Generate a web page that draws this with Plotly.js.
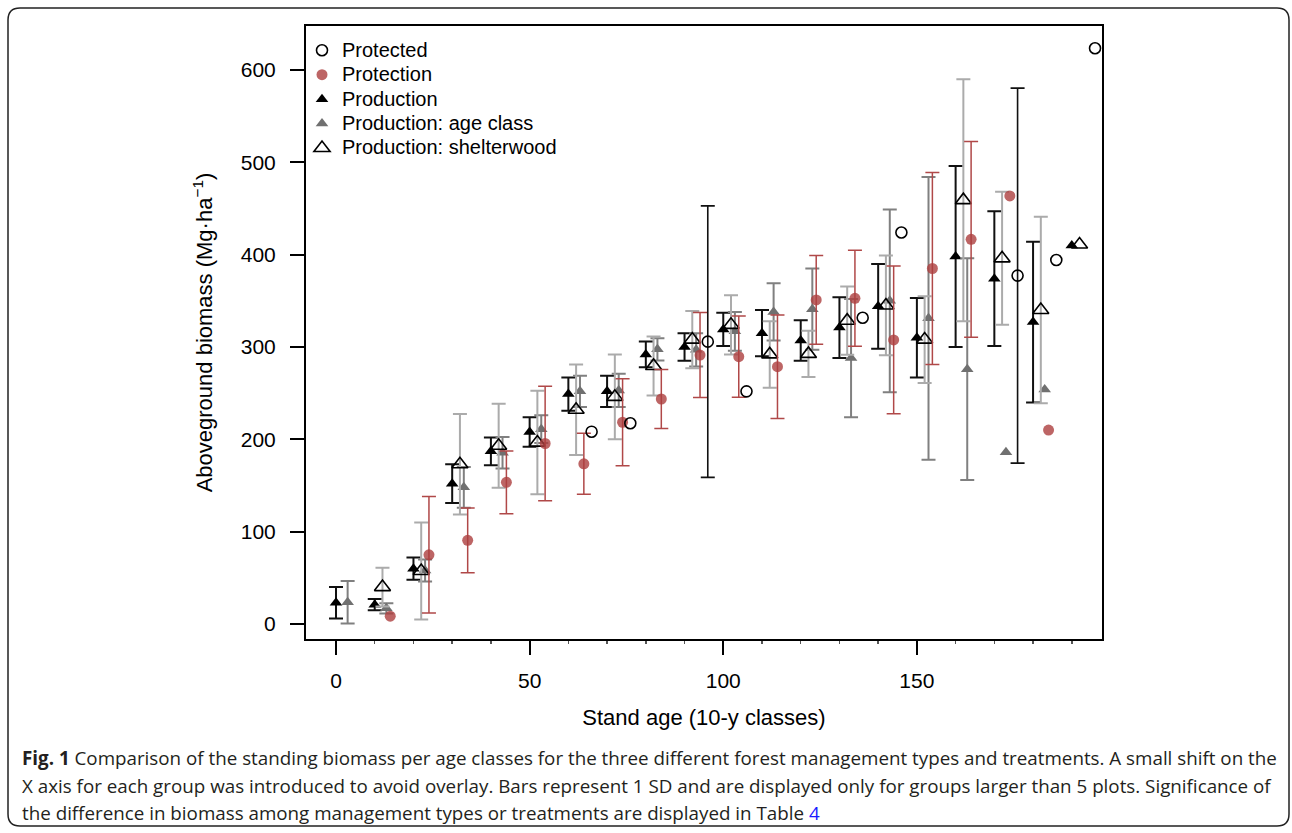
<!DOCTYPE html>
<html>
<head>
<meta charset="utf-8">
<script src="https://cdn.plot.ly/plotly-3.0.1.min.js"></script>
<style>
  html, body { margin: 0; padding: 0; background: #fff; }
  #chart { width: 1292px; height: 833px; }
</style>
</head>
<body>
<div id="chart"></div>
<script>
// ---------------- data ----------------
// Stand age classes (10-y) per group; each group is drawn with a small x shift
const prodAge  = [0,10,20,30,40,50,60,70,80,90,100,110,120,130,140,150,160,170,180,190];
const prodMean = [23,21,60,152,187,208,249,252,292,300,319,315,307,321,344,310,398,374,327,410];
const prodSD   = [17,6,12,21,15,16,18,17,14,15,18,25,22,33,46,43,98,73,87,null];

const ageClsAge  = [0,10,20,30,40,50,60,70,80,90,100,110,120,130,140,150,160,170,180];
const ageClsMean = [23.5,17,58,148,185.5,211,252,253,297.5,297,317,338,341,288,350,331,276,186,254];
const ageClsSD   = [23,5.5,12,22,17,15,17,18,12,18,21,31,44,64,99,153,120,null,null];

const shelAge  = [10,20,30,40,50,60,70,80,90,100,110,120,130,140,150,160,170,180,190];
const shelMean = [40,57.5,173,193,196.5,232,246,279.5,308,324,292,292.5,328.5,345,308,459,396,340,411];
const shelSD   = [21,52.5,54.5,45.5,56,49,46,32,31,32,36,25,37,54,47,131,72,101,null];

const protnAge  = [10,20,30,40,50,60,70,80,90,100,110,120,130,140,150,160,170,180];
const protnMean = [8.5,75,90.6,153.5,195.5,173.5,218.5,243.7,291.3,289.5,278.7,351,352.7,307.6,385,416.6,463.6,210];
const protnSD   = [null,63,35,34,62,33,47,32,46,44,56,48,52,80,104,106,null,null];

const protdAge  = [60,70,90,100,130,140,170,180,190];
const protdMean = [208.3,217.4,305.8,252,331.7,424,377.3,394.2,623.5];
const protdSD   = [null,null,147,null,null,null,203,null,null];

// x shift of each group (to avoid overlay)
const SHIFT = { production: 0, shelterwood: 2, ageClass: 3, protection: 4, protected: 6 };

const seriesNames = ['Protected', 'Protection', 'Production', 'Production: age class', 'Production: shelterwood'];
const xTicks = [0, 50, 100, 150];
const yTicks = [0, 100, 200, 300, 400, 500, 600];

// ---------------- layout helpers ----------------
const W = 1292, H = 833;
const M = { l: 306, r: 190, t: 26, b: 194 };
const PW = W - M.l - M.r, PH = H - M.t - M.b;
const px2x = p => (p - M.l) / PW;
const px2y = p => (H - M.b - p) / PH;

const FONT = 'Liberation Sans, Arial, Helvetica, sans-serif';

function shifted(ages, s) { return ages.map(a => a + s); }
function errs(sd) { return sd.map(v => (v === null ? NaN : v)); }
function legName(n) { return '<span style="font-size:20px">' + n + '</span>'; }

function trace(name, ages, mean, sd, shift, marker, err, rank) {
  return {
    type: 'scatter', mode: 'markers', name: legName(name),
    x: shifted(ages, shift), y: mean,
    marker: marker,
    error_y: Object.assign({ type: 'data', array: errs(sd), visible: true, width: 7 }, err),
    legendrank: rank,
    hoverinfo: 'x+y'
  };
}

const data = [
  trace(seriesNames[2], prodAge, prodMean, prodSD, SHIFT.production,
        { symbol: 'triangle-up', size: 11, color: '#000' },
        { color: '#111', thickness: 2 }, 3),
  trace(seriesNames[3], ageClsAge, ageClsMean, ageClsSD, SHIFT.ageClass,
        { symbol: 'triangle-up', size: 11, color: '#707070' },
        { color: '#808080', thickness: 2 }, 4),
  trace(seriesNames[4], shelAge, shelMean, shelSD, SHIFT.shelterwood,
        { symbol: 'triangle-up-open', size: 14, color: '#000', line: { width: 1.6, color: '#000' } },
        { color: '#ababab', thickness: 2 }, 5),
  trace(seriesNames[1], protnAge, protnMean, protnSD, SHIFT.protection,
        { symbol: 'circle', size: 11, color: 'rgba(172,62,62,0.8)' },
        { color: '#b04848', thickness: 1.5 }, 2),
  trace(seriesNames[0], protdAge, protdMean, protdSD, SHIFT.protected,
        { symbol: 'circle-open', size: 11, color: '#000', line: { width: 1.6, color: '#000' } },
        { color: '#111', thickness: 1.6 }, 1)
];

// outer rounded frame of the figure panel
const fL = 8, fR = 1289, fT = 8, fB = 826, rad = 12;
const framePath = [
  'M', px2x(fL + rad), px2y(fT),
  'L', px2x(fR - rad), px2y(fT),
  'Q', px2x(fR), px2y(fT), px2x(fR), px2y(fT + rad),
  'L', px2x(fR), px2y(fB - rad),
  'Q', px2x(fR), px2y(fB), px2x(fR - rad), px2y(fB),
  'L', px2x(fL + rad), px2y(fB),
  'Q', px2x(fL), px2y(fB), px2x(fL), px2y(fB - rad),
  'L', px2x(fL), px2y(fT + rad),
  'Q', px2x(fL), px2y(fT), px2x(fL + rad), px2y(fT),
  'Z'
].join(' ');

const capFont = { family: 'Open Sans, sans-serif', size: 18.8, color: '#231f20' };
const captionLines = [
  '<b>Fig. 1</b> Comparison of the standing biomass per age classes for the three different forest management types and treatments. A small shift on the',
  'X axis for each group was introduced to avoid overlay. Bars represent 1 SD and are displayed only for groups larger than 5 plots. Significance of',
  'the difference in biomass among management types or treatments are displayed in Table <span style="color:#1a1aff">4</span>'
];
const captionY = [758, 786, 813];

const annotations = captionLines.map((t, i) => ({
  xref: 'paper', yref: 'paper', x: px2x(20), y: px2y(captionY[i]),
  xanchor: 'left', yanchor: 'middle', showarrow: false, align: 'left',
  text: t, font: capFont
}));

const layout = {
  width: W, height: H,
  margin: M,
  paper_bgcolor: '#fff', plot_bgcolor: '#fff',
  font: { family: FONT, color: '#000', size: 20 },
  showlegend: true,
  legend: {
    x: px2x(302), xanchor: 'left',
    y: px2y(33), yanchor: 'top',
    bgcolor: 'rgba(0,0,0,0)', borderwidth: 0,
    font: { family: FONT, size: 16.5, color: '#000' },
    traceorder: 'normal'
  },
  xaxis: {
    range: [-7.75, 197.8], autorange: false,
    tickvals: xTicks, ticktext: xTicks.map(String),
    ticks: 'outside', ticklen: 14, tickwidth: 2, tickcolor: '#000',
    ticklabelstandoff: 8,
    minor: { dtick: 10, tick0: 0, ticks: 'outside', ticklen: 3, tickwidth: 1.5, tickcolor: '#555' },
    showline: true, linewidth: 2, linecolor: '#000', mirror: true,
    showgrid: false, zeroline: false,
    tickfont: { family: FONT, size: 21, color: '#000' },
    title: { text: 'Stand age (10-y classes)', font: { family: FONT, size: 22, color: '#000' }, standoff: 18 }
  },
  yaxis: {
    range: [-16.2, 647.6], autorange: false,
    tickvals: yTicks, ticktext: yTicks.map(String),
    ticks: 'outside', ticklen: 14, tickwidth: 2, tickcolor: '#000',
    ticklabelstandoff: 10,
    showline: true, linewidth: 2, linecolor: '#000', mirror: true,
    showgrid: false, zeroline: false,
    tickfont: { family: FONT, size: 21, color: '#000' },
    title: { text: 'Aboveground biomass (Mg·ha<sup>−1</sup>)', font: { family: FONT, size: 22, color: '#000' }, standoff: 22 }
  },
  shapes: [{
    type: 'path', xref: 'paper', yref: 'paper', path: framePath,
    line: { color: '#222', width: 1.5 }, fillcolor: 'rgba(0,0,0,0)', layer: 'below'
  }],
  annotations: annotations
};

Plotly.newPlot('chart', data, layout, { displayModeBar: false, staticPlot: true });
</script>
</body>
</html>
